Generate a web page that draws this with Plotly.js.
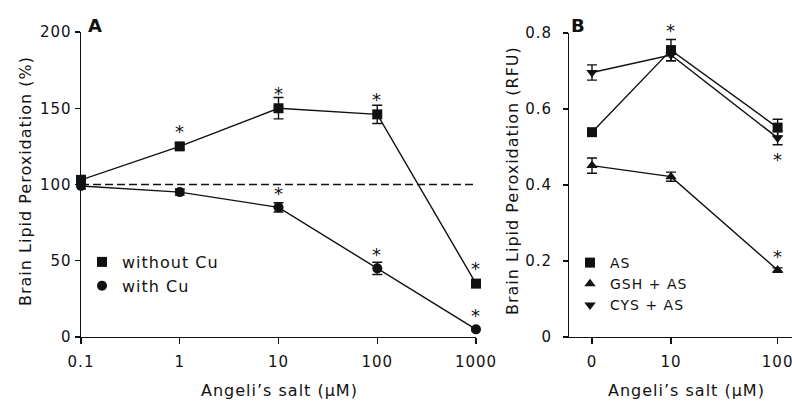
<!DOCTYPE html>
<html>
<head>
<meta charset="utf-8">
<script src="https://cdn.plot.ly/plotly-3.0.1.min.js"></script>
<style>
body{margin:0;background:#fff}
#chart{width:792px;height:401px}
svg text{letter-spacing:1px}
</style>
</head>
<body>
<div id="chart"></div>
<script>
// ---------- Panel A data ----------
const concA = [0.1, 1, 10, 100, 1000];
const concATicks = ['0.1', '1', '10', '100', '1000'];
const withoutCu = [103, 125, 150, 146, 35];
const withoutCuErr = [3, 2, 7, 6, 2];
const withCu = [99, 95, 85, 45, 5];
const withCuErr = [2, 2, 3, 4, 1];
const sigWithoutCu = [0, 1, 1, 1, 1];
const sigWithCu = [0, 0, 1, 1, 1];
const controlLevel = 100;

// ---------- Panel B data ----------
const concB = ['0', '10', '100'];
const asVals = [0.539, 0.755, 0.551];
const asErr = [0.006, 0.028, 0.022];
const gshVals = [0.451, 0.422, 0.176];
const gshErr = [0.02, 0.012, 0.006];
const cysVals = [0.696, 0.742, 0.524];
const cysErr = [0.02, 0.015, 0.018];
// significance: 1 = asterisk above, -1 = asterisk below, 0 = none
const sigAS = [0, 1, 0];
const sigGSH = [0, 0, 1];
const sigCYS = [0, 0, -1];

// axis placement of panel B categories (non-uniform spacing as in the original)
const bPos = {'0': 0, '10': 1, '100': 2.35};
const xB = concB.map(c => bPos[c]);

const FONT = 'DejaVu Sans, Arial, sans-serif';
const BLACK = '#111';
const W = 792, H = 401;
const px = v => v / W;
const py = v => 1 - v / H;

const lineStyle = {color: BLACK, width: 1.4};
function errY(arr){ return {type: 'data', array: arr, visible: true, color: BLACK, thickness: 1.4, width: 5}; }

const traces = [];
// Panel A lines
traces.push({x: concA, y: concA.map(() => controlLevel), mode: 'lines', line: {color: BLACK, width: 1.4, dash: '8px,4px'}, showlegend: false, hoverinfo: 'skip', xaxis: 'x', yaxis: 'y', cliponaxis: false});
traces.push({x: concA, y: withoutCu, mode: 'lines', line: lineStyle, showlegend: false, xaxis: 'x', yaxis: 'y', cliponaxis: false});
traces.push({x: concA, y: withCu, mode: 'lines', line: lineStyle, showlegend: false, xaxis: 'x', yaxis: 'y', cliponaxis: false});
traces.push({x: concA, y: withoutCu, name: 'without Cu', mode: 'markers', marker: {symbol: 'square', size: 10, color: BLACK}, error_y: errY(withoutCuErr), xaxis: 'x', yaxis: 'y', legend: 'legend', cliponaxis: false});
traces.push({x: concA, y: withCu, name: 'with Cu', mode: 'markers', marker: {symbol: 'circle', size: 10, color: BLACK}, error_y: errY(withCuErr), xaxis: 'x', yaxis: 'y', legend: 'legend', cliponaxis: false});

// Panel B lines
[asVals, gshVals, cysVals].forEach(v => traces.push({x: xB, y: v, mode: 'lines', line: lineStyle, showlegend: false, xaxis: 'x2', yaxis: 'y2', cliponaxis: false}));
traces.push({x: xB, y: asVals, name: 'AS', mode: 'markers', marker: {symbol: 'square', size: 10, color: BLACK}, error_y: errY(asErr), xaxis: 'x2', yaxis: 'y2', legend: 'legend2', cliponaxis: false});
traces.push({x: xB, y: gshVals, name: 'GSH + AS', mode: 'markers', marker: {symbol: 'triangle-up', size: 10, color: BLACK}, error_y: errY(gshErr), xaxis: 'x2', yaxis: 'y2', legend: 'legend2', cliponaxis: false});
traces.push({x: xB, y: cysVals, name: 'CYS + AS', mode: 'markers', marker: {symbol: 'triangle-down', size: 10, color: BLACK}, error_y: errY(cysErr), xaxis: 'x2', yaxis: 'y2', legend: 'legend2', cliponaxis: false});

// asterisks
const annotations = [];
function stars(xs, ys, sig, xref, yref, up, down){
  xs.forEach((x, i) => {
    if (!sig[i]) return;
    annotations.push({x: xref === 'x' ? Math.log10(x) : x, y: ys[i], xref: xref, yref: yref, text: '*', showarrow: false,
      xanchor: 'center', yanchor: 'middle',
      font: {family: FONT, size: 18, color: BLACK}, yshift: sig[i] > 0 ? up : -down});
  });
}
stars(concA, withoutCu, sigWithoutCu, 'x', 'y', 15, 14);
stars(concA, withCu, sigWithCu, 'x', 'y', 14, 14);
stars(xB, asVals, sigAS, 'x2', 'y2', 20, 14);
stars(xB, gshVals, sigGSH, 'x2', 'y2', 14, 14);
stars(xB, cysVals, sigCYS, 'x2', 'y2', 14, 22);

function paperText(x, y, text, size, extra){
  annotations.push(Object.assign({x: px(x), y: py(y), xref: 'paper', yref: 'paper', text: text, showarrow: false,
    xanchor: 'center', yanchor: 'middle', font: {family: FONT, size: size, color: BLACK}}, extra || {}));
}
// panel letters and axis titles
paperText(95, 26, '<b>A</b>', 18);
paperText(578, 26, '<b>B</b>', 18);
paperText(279, 390, 'Angeli\u2019s salt (\u03bcM)', 16);
paperText(686, 390, 'Angeli\u2019s salt (\u03bcM)', 16);
paperText(25, 181, 'Brain Lipid Peroxidation (%)', 16, {textangle: -90});
paperText(512, 181, 'Brain Lipid Peroxidation (RFU)', 16, {textangle: -90});

const axBase = {showgrid: false, zeroline: false, showline: true, linecolor: BLACK, linewidth: 1.4,
  ticks: 'outside', ticklen: 5, tickwidth: 1.4, tickcolor: BLACK, tickfont: {family: FONT, size: 15, color: BLACK},
  ticklabeloverflow: 'allow', fixedrange: true};

const layout = {
  width: W, height: H,
  margin: {l: 0, r: 0, t: 0, b: 0},
  paper_bgcolor: '#fff', plot_bgcolor: '#fff',
  font: {family: FONT, color: BLACK},
  xaxis: Object.assign({}, axBase, {type: 'log', domain: [px(81), px(476)], range: [-1, 3], tickvals: concA, ticktext: concATicks, anchor: 'y', ticklen: 6, ticklabelstandoff: 5}),
  yaxis: Object.assign({}, axBase, {domain: [py(337), py(32)], range: [0, 200], tickvals: [0, 50, 100, 150, 200], anchor: 'x'}),
  xaxis2: Object.assign({}, axBase, {domain: [px(563), px(792)], range: [-0.367, 2.532], tickvals: xB, ticktext: concB, anchor: 'y2', ticklen: 6, ticklabelstandoff: 5}),
  yaxis2: Object.assign({}, axBase, {domain: [py(337), py(33)], range: [0, 0.8], tickvals: [0, 0.2, 0.4, 0.6, 0.8], ticktext: ['0', '0.2', '0.4', '0.6', '0.8'], anchor: 'free', position: px(568), ticklabelstandoff: 8}),
  legend: {x: px(82), y: py(245), xanchor: 'left', yanchor: 'top', bgcolor: 'rgba(0,0,0,0)', font: {family: FONT, size: 16, color: BLACK}, tracegroupgap: 0},
  legend2: {x: px(570), y: py(247), xanchor: 'left', yanchor: 'top', bgcolor: 'rgba(0,0,0,0)', font: {family: FONT, size: 14, color: BLACK}, tracegroupgap: 0},
  annotations: annotations,
  showlegend: true
};

Plotly.newPlot('chart', traces, layout, {staticPlot: true, displayModeBar: false});
</script>
</body>
</html>
